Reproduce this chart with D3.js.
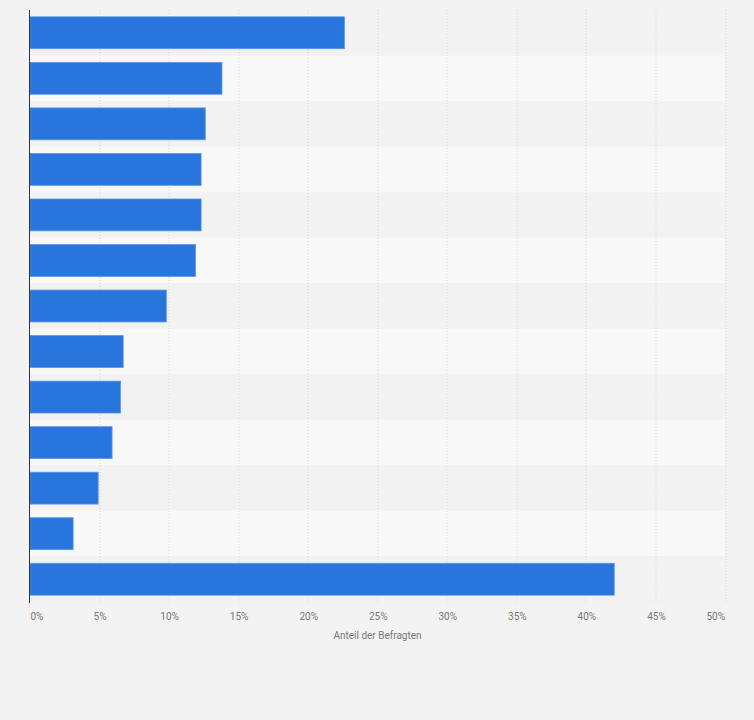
<!DOCTYPE html>
<html>
<head>
<meta charset="utf-8">
<script src="https://cdn.jsdelivr.net/npm/d3@7"></script>
<style>
  body { margin: 0; background: #f3f3f3; }
  svg { display: block; font-family: Roboto, "Liberation Sans", Arial, sans-serif; }
</style>
</head>
<body>
<script>
// Kategorien sind im Bild nicht beschriftet, daher nur Platzhalter
var categories = ["A", "B", "C", "D", "E", "F", "G", "H", "I", "J", "K", "L", "M"];
var values = [22.6, 13.8, 12.6, 12.3, 12.3, 11.9, 9.8, 6.7, 6.5, 5.9, 4.9, 3.1, 42.0];
var ticks = [0, 5, 10, 15, 20, 25, 30, 35, 40, 45, 50];
var axisTitle = "Anteil der Befragten";

var w = 754, h = 720;
var margin = {top: 10, right: 29, bottom: 118, left: 29.5};
var innerW = w - margin.left - margin.right,
    innerH = h - margin.top - margin.bottom;

var x = d3.scaleLinear().domain([0, 50]).range([0, 695.5]);
var y = d3.scaleBand().domain(categories).range([0, innerH]).paddingInner(0.3).paddingOuter(0.15);

var svg = d3.select('body').append('svg')
    .attr('width', w)
    .attr('height', h);

svg.append('rect').attr('width', w).attr('height', h).attr('fill', '#f3f3f3');

var g = svg.append('g')
    .attr('transform', 'translate(' + [margin.left, margin.top] + ')');

// abwechselnde Zeilenhintergründe
var step = y.step();
g.selectAll('.band')
    .data(categories)
    .enter().append('rect')
    .attr('class', 'band')
    .attr('x', 0)
    .attr('y', function(d, i) { return i * innerH / categories.length; })
    .attr('width', x(50))
    .attr('height', innerH / categories.length)
    .attr('fill', function(d, i) { return i % 2 ? '#f8f8f8' : '#f2f2f2'; });

// gestrichelte Gitterlinien
g.selectAll('.grid')
    .data(ticks.slice(1))
    .enter().append('line')
    .attr('class', 'grid')
    .attr('x1', function(d) { return Math.round(x(d)) + 0.5; })
    .attr('x2', function(d) { return Math.round(x(d)) + 0.5; })
    .attr('y1', 0)
    .attr('y2', innerH)
    .attr('stroke', '#d6d6d6')
    .attr('stroke-dasharray', '1,2');

g.selectAll('.bar')
    .data(values)
    .enter().append('rect')
    .attr('class', 'bar')
    .attr('x', 0.5)
    .attr('y', function(d, i) { return y(categories[i]); })
    .attr('width', function(d) { return x(d); })
    .attr('height', y.bandwidth())
    .attr('fill', '#2876dd')
    .attr('stroke', '#5a95e6')
    .attr('stroke-width', 0.8);

// y-Achsenlinie
g.append('line')
    .attr('x1', 0).attr('x2', 0)
    .attr('y1', 0).attr('y2', innerH + 1)
    .attr('stroke', '#333')
    .attr('stroke-width', 1);

// Tick-Beschriftungen
g.selectAll('.tick')
    .data(ticks)
    .enter().append('text')
    .attr('class', 'tick')
    .attr('x', function(d, i) {
      if (i === 0) return x(d) + 1;
      if (i === ticks.length - 1) return x(d);
      return x(d) + 1;
    })
    .attr('y', innerH + 18)
    .attr('text-anchor', function(d, i) {
      if (i === 0) return 'start';
      if (i === ticks.length - 1) return 'end';
      return 'middle';
    })
    .attr('font-size', 10)
    .attr('fill', '#777')
    .text(function(d) { return d + '%'; });

g.append('text')
    .attr('x', 348)
    .attr('y', innerH + 37)
    .attr('text-anchor', 'middle')
    .attr('font-size', 10)
    .attr('fill', '#777')
    .text(axisTitle);
</script>
</body>
</html>
